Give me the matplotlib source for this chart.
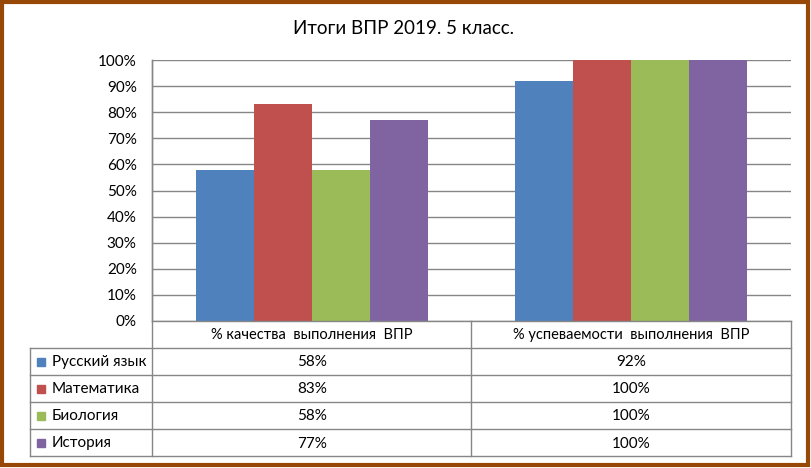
import matplotlib
matplotlib.use("Agg")
import matplotlib.pyplot as plt
from matplotlib.patches import Rectangle

title = "Итоги ВПР 2019. 5 класс."
categories = ["% качества  выполнения  ВПР", "% успеваемости  выполнения  ВПР"]
series_names = ["Русский язык", "Математика", "Биология", "История"]
russian = [58, 92]
math_ = [83, 100]
biology = [58, 100]
history = [77, 100]
series_values = [russian, math_, biology, history]
colors = ["#4F81BD", "#C0504D", "#9BBB59", "#8064A2"]
yticks = [0, 10, 20, 30, 40, 50, 60, 70, 80, 90, 100]

W, H = 812, 468
FONT = ["Lato", "DejaVu Sans"]
plt.rcParams["font.family"] = FONT
grid_c = "#868686"
txt_c = "#000000"

fig = plt.figure(figsize=(W / 100, H / 100), dpi=100)
fig.patch.set_facecolor("white")

L, R, T, B = 152, 791, 60, 321
ax = fig.add_axes([L / W, 1 - B / H, (R - L) / W, (B - T) / H])
n = len(series_names)
bw = 0.1815
for i, (name, vals, c) in enumerate(zip(series_names, series_values, colors)):
    xs = [k + (i - (n - 1) / 2) * bw for k in range(len(categories))]
    ax.bar(xs, vals, width=bw, color=c, zorder=3)
ax.set_xlim(-0.5, len(categories) - 0.5)
ax.set_ylim(0, 100)
ax.set_yticks(yticks)
ax.set_yticklabels([f"{v}%" for v in yticks], fontsize=11, color=txt_c)
ax.tick_params(axis="y", length=0, pad=11)
ax.set_xticks([])
ax.grid(axis="y", color=grid_c, linewidth=1.0, zorder=0)
for s in ["top", "right", "bottom"]:
    ax.spines[s].set_visible(False)
ax.spines["left"].set_color(grid_c)
ax.spines["left"].set_linewidth(1.0)

# overlay in pixel coordinates for table
ov = fig.add_axes([0, 0, 1, 1], zorder=5)
ov.set_xlim(0, W)
ov.set_ylim(H, 0)
ov.axis("off")
ov.patch.set_alpha(0)

row_h = [321, 347.5, 374.5, 402, 429, 456]
mid = (L + R) / 2
lw = 1.0
ov.plot([L, R], [row_h[0], row_h[0]], color=grid_c, lw=lw)
for y in row_h[1:]:
    ov.plot([30, R], [y, y], color=grid_c, lw=lw)
ov.plot([L, L], [T, row_h[-1]], color=grid_c, lw=lw)
ov.plot([mid, mid], [row_h[0], row_h[-1]], color=grid_c, lw=lw)
ov.plot([R, R], [row_h[0], row_h[-1]], color=grid_c, lw=lw)
ov.plot([30.5, 30.5], [row_h[1], row_h[-1]], color=grid_c, lw=lw)

col_centers = [(L + mid) / 2, (mid + R) / 2]
for cx, cat in zip(col_centers, categories):
    ov.text(cx, (row_h[0] + row_h[1]) / 2 + 1, cat, ha="center", va="center", fontsize=10.5, color=txt_c)
for r, (name, vals, c) in enumerate(zip(series_names, series_values, colors)):
    yc = (row_h[r + 1] + row_h[r + 2]) / 2 + 1
    ov.add_patch(Rectangle((37, yc - 4.5), 8, 8, color=c))
    ov.text(52, yc, name, ha="left", va="center", fontsize=11, color=txt_c)
    for cx, v in zip(col_centers, vals):
        ov.text(cx, yc, f"{v}%", ha="center", va="center", fontsize=11, color=txt_c)

ov.text(404, 28, title, ha="center", va="center", fontsize=13.5, color=txt_c)

# brown frame
ov.add_patch(Rectangle((2, 1.5), 806, 463, fill=False, edgecolor="#974806", lw=3))

fig.savefig("out.png", dpi=100, facecolor="white")
